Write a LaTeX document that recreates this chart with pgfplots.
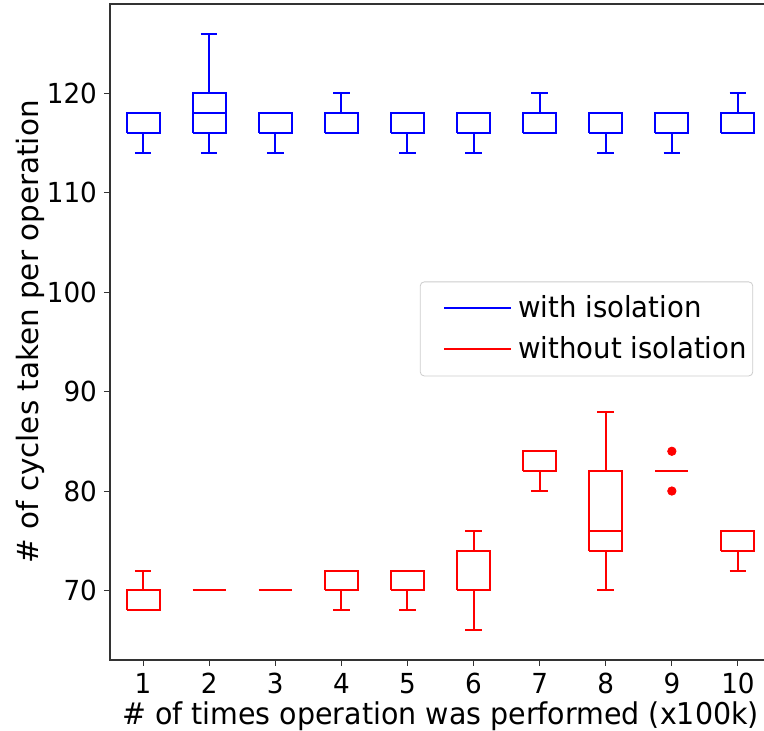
\documentclass[border=0pt]{standalone}
\usepackage{fontspec}
\setmainfont{DejaVu Sans}[FakeStretch=0.95]
\newfontfamily\ylabfont{DejaVu Sans}
\usepackage{pgfplots}
\pgfplotsset{compat=1.18}
\begin{document}
\begin{tikzpicture}[font=\fontsize{15}{18}\selectfont]
\begin{axis}[
  scale only axis, width=330.5pt, height=328pt,
  xmin=0.5, xmax=10.5, ymin=63, ymax=129,
  xtick={1,2,...,10}, ytick={70,80,90,100,110,120},
  tick align=outside, tick pos=left,
  major tick length=3pt,
  /pgf/number format/assume math mode=true,
  tick label style={font=\fontsize{13.8}{16}\selectfont},
  axis line style={black!80, line width=0.6pt},
  tick style={black!80, line width=0.5pt},
  xlabel={\# of times operation was performed (x100k)},
  ylabel={\ylabfont\fontsize{14.7}{18}\selectfont\# of cycles taken per operation},
  xlabel style={yshift=3pt},
  ylabel style={yshift=-5.5pt},
  unbounded coords=jump,
  legend style={at={(0.973,0.577)}, anchor=north east, draw=black!20, rounded corners=2pt,
    inner xsep=1pt, inner ysep=5pt, row sep=4pt, font=\fontsize{14.5}{17}\selectfont},
  legend cell align=left,
]
% with isolation (blue): box, median, whiskers, caps
\addplot[blue, line width=1pt, line join=miter, mark=none,
  legend image code/.code={\path[draw=none, fill=none] (-12.5pt,0pt) rectangle (33.5pt,0.1pt); \draw[blue, line width=1pt] (-1.5pt,0pt) -- (32pt,0pt);}] coordinates {
 (0.75,116)(1.25,116)(1.25,118)(0.75,118)(0.75,116)(1,nan)
 (1,116)(1,114)(1,nan)(0.875,114)(1.125,114)(1,nan)
 (1.75,116)(2.25,116)(2.25,120)(1.75,120)(1.75,116)(2,nan)
 (1.75,118)(2.25,118)(2,nan)
 (2,116)(2,114)(2,nan)(1.875,114)(2.125,114)(2,nan)
 (2,120)(2,126)(2,nan)(1.875,126)(2.125,126)(2,nan)
 (2.75,116)(3.25,116)(3.25,118)(2.75,118)(2.75,116)(3,nan)
 (3,116)(3,114)(3,nan)(2.875,114)(3.125,114)(3,nan)
 (3.75,116)(4.25,116)(4.25,118)(3.75,118)(3.75,116)(4,nan)
 (4,118)(4,120)(4,nan)(3.875,120)(4.125,120)(4,nan)
 (4.75,116)(5.25,116)(5.25,118)(4.75,118)(4.75,116)(5,nan)
 (5,116)(5,114)(5,nan)(4.875,114)(5.125,114)(5,nan)
 (5.75,116)(6.25,116)(6.25,118)(5.75,118)(5.75,116)(6,nan)
 (6,116)(6,114)(6,nan)(5.875,114)(6.125,114)(6,nan)
 (6.75,116)(7.25,116)(7.25,118)(6.75,118)(6.75,116)(7,nan)
 (7,118)(7,120)(7,nan)(6.875,120)(7.125,120)(7,nan)
 (7.75,116)(8.25,116)(8.25,118)(7.75,118)(7.75,116)(8,nan)
 (8,116)(8,114)(8,nan)(7.875,114)(8.125,114)(8,nan)
 (8.75,116)(9.25,116)(9.25,118)(8.75,118)(8.75,116)(9,nan)
 (9,116)(9,114)(9,nan)(8.875,114)(9.125,114)(9,nan)
 (9.75,116)(10.25,116)(10.25,118)(9.75,118)(9.75,116)(10,nan)
 (10,118)(10,120)(10,nan)(9.875,120)(10.125,120)
};
\addlegendentry{with isolation}
% without isolation (red)
\addplot[red, line width=1pt, line join=miter, mark=none,
  legend image code/.code={\path[draw=none, fill=none] (-12.5pt,0pt) rectangle (33.5pt,0.1pt); \draw[red, line width=1pt] (-1.5pt,0pt) -- (32pt,0pt);}] coordinates {
 (0.75,68)(1.25,68)(1.25,70)(0.75,70)(0.75,68)(1,nan)
 (1,70)(1,72)(1,nan)(0.875,72)(1.125,72)(1,nan)
 (1.75,70)(2.25,70)(2,nan)
 (2.75,70)(3.25,70)(3,nan)
 (3.75,70)(4.25,70)(4.25,72)(3.75,72)(3.75,70)(4,nan)
 (4,70)(4,68)(4,nan)(3.875,68)(4.125,68)(4,nan)
 (4.75,70)(5.25,70)(5.25,72)(4.75,72)(4.75,70)(5,nan)
 (5,70)(5,68)(5,nan)(4.875,68)(5.125,68)(5,nan)
 (5.75,70)(6.25,70)(6.25,74)(5.75,74)(5.75,70)(6,nan)
 (6,70)(6,66)(6,nan)(5.875,66)(6.125,66)(6,nan)
 (6,74)(6,76)(6,nan)(5.875,76)(6.125,76)(6,nan)
 (6.75,82)(7.25,82)(7.25,84)(6.75,84)(6.75,82)(7,nan)
 (7,82)(7,80)(7,nan)(6.875,80)(7.125,80)(7,nan)
 (7.75,74)(8.25,74)(8.25,82)(7.75,82)(7.75,74)(8,nan)
 (7.75,76)(8.25,76)(8,nan)
 (8,74)(8,70)(8,nan)(7.875,70)(8.125,70)(8,nan)
 (8,82)(8,88)(8,nan)(7.875,88)(8.125,88)(8,nan)
 (8.75,82)(9.25,82)(9,nan)
 (9.75,74)(10.25,74)(10.25,76)(9.75,76)(9.75,74)(10,nan)
 (10,74)(10,72)(10,nan)(9.875,72)(10.125,72)
};
\addlegendentry{without isolation}
% outliers
\addplot[only marks, mark=*, mark size=2.1pt, red, mark options={fill=red, draw=red}, forget plot] coordinates {(9,84) (9,80)};
\end{axis}
\pgfresetboundingbox
\path[use as bounding box] (current axis.south west) ++(-55pt,-35.5pt) rectangle ++(382pt,365.5pt);
\end{tikzpicture}
\end{document}
